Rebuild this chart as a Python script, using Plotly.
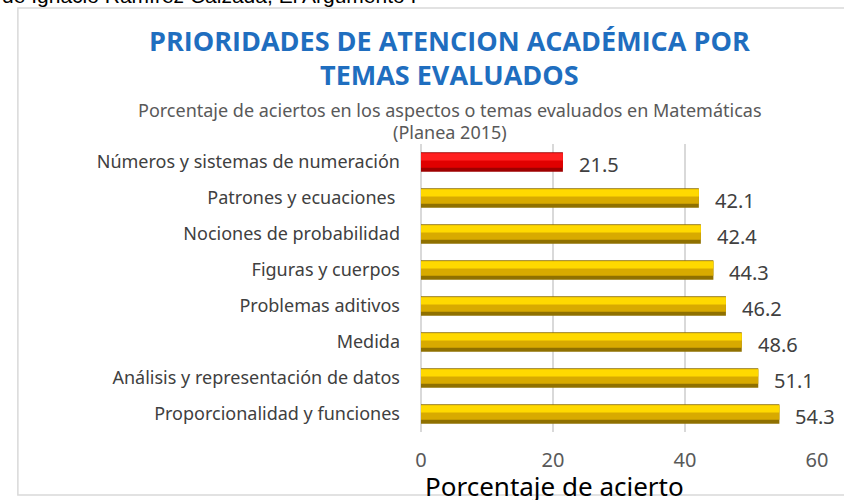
import plotly.graph_objects as go

categories = ["Números y sistemas de numeración", "Patrones y ecuaciones ", "Nociones de probabilidad",
              "Figuras y cuerpos", "Problemas aditivos", "Medida",
              "Análisis y representación de datos", "Proporcionalidad y funciones"]
values = [21.5, 42.1, 42.4, 44.3, 46.2, 48.6, 51.1, 54.3]
x_ticks = [0, 20, 40, 60]

outer_col = ["#9E0000" if v < 30 else "#8F7000" for v in values]
mid_col = ["#E00000" if v < 30 else "#D8AA00" for v in values]
hi_col = ["#FF2020" if v < 30 else "#FFD900" for v in values]

fig = go.Figure()
fig.add_trace(go.Bar(x=values, y=categories, orientation="h", width=0.54,
                     marker=dict(color=outer_col, line=dict(width=0)), hoverinfo="skip"))
fig.add_trace(go.Bar(x=values, y=categories, orientation="h", width=0.40, offset=-0.24,
                     marker=dict(color=mid_col, line=dict(width=0)), hoverinfo="skip"))
fig.add_trace(go.Bar(x=values, y=categories, orientation="h", width=0.20, offset=-0.24,
                     marker=dict(color=hi_col, line=dict(width=0)), hoverinfo="skip"))

annotations = []
for c, v in zip(categories, values):
    annotations.append(dict(x=v, y=c, xref="x", yref="y", text=f"{v:.1f}", showarrow=False,
                            xanchor="left", xshift=14, yshift=-2,
                            font=dict(family="Noto Sans", size=20, color="#404040")))

annotations += [
    dict(x=-1.063, y=1.514, xref="paper", yref="paper", xanchor="left", yanchor="middle",
         text="de Ignacio Ramírez Calzada, El Argumento I", showarrow=False,
         font=dict(family="Liberation Sans", size=21, color="#000000")),
    dict(x=0.073, y=1.361, xref="paper", yref="paper", xanchor="center", yanchor="middle",
         text="<b>PRIORIDADES DE ATENCION ACADÉMICA POR</b>", showarrow=False,
         font=dict(family="Open Sans", size=27, color="#1F6EBF")),
    dict(x=0.073, y=1.240, xref="paper", yref="paper", xanchor="center", yanchor="middle",
         text="<b>TEMAS EVALUADOS</b>", showarrow=False,
         font=dict(family="Open Sans", size=27, color="#1F6EBF")),
    dict(x=0.073, y=1.118, xref="paper", yref="paper", xanchor="center", yanchor="middle",
         text="Porcentaje de aciertos en los aspectos o temas evaluados en Matemáticas", showarrow=False,
         font=dict(family="Noto Sans", size=18, color="#595959")),
    dict(x=0.073, y=1.042, xref="paper", yref="paper", xanchor="center", yanchor="middle",
         text="(Planea 2015)", showarrow=False,
         font=dict(family="Noto Sans", size=18, color="#595959")),
    dict(x=0.336, y=-0.187, xref="paper", yref="paper", xanchor="center", yanchor="middle",
         text="Porcentaje de acierto", showarrow=False,
         font=dict(family="Noto Sans", size=26, color="#000000")),
]

fig.update_layout(
    width=844, height=500,
    margin=dict(l=421, r=27, t=144, b=68),
    paper_bgcolor="white", plot_bgcolor="white",
    barmode="overlay", showlegend=False,
    annotations=annotations,
    shapes=[dict(type="rect", xref="paper", yref="paper", x0=-1.018, x1=1.09, y0=-0.219, y1=1.472,
                 line=dict(color="#D9D9D9", width=1.5), fillcolor="rgba(0,0,0,0)", layer="below")],
    font=dict(family="Noto Sans", color="#404040"),
)
fig.update_xaxes(range=[0, 60], tickvals=x_ticks, showgrid=True, gridcolor="#D9D9D9", gridwidth=1.5,
                 zeroline=True, zerolinecolor="#D9D9D9", zerolinewidth=1.5, showline=False,
                 tickfont=dict(family="Noto Sans", size=20, color="#595959"), ticklabelstandoff=14)
fig.update_yaxes(autorange="reversed", showgrid=False, showline=False, ticks="",
                 tickfont=dict(family="Noto Sans", size=18, color="#404040"), ticklabelstandoff=20)

fig.write_html("out.html", config={"displayModeBar": False},
               post_script="document.body.style.margin='0px';")
